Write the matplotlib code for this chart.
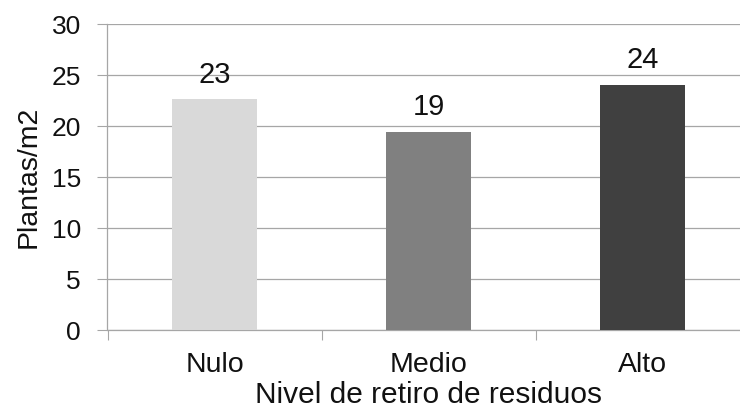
import matplotlib
matplotlib.use("Agg")
import matplotlib.pyplot as plt
from matplotlib.ticker import FixedLocator

categories = ["Nulo", "Medio", "Alto"]
values = [22.6, 19.4, 24.0]
value_labels = ["23", "19", "24"]
colors = ["#d9d9d9", "#808080", "#404040"]
yticks = [0, 5, 10, 15, 20, 25, 30]

plt.rcParams['font.family'] = ['Liberation Sans', 'DejaVu Sans']

fig = plt.figure(figsize=(7.4, 4.11), dpi=100)
ax = fig.add_axes([107.5/740, 1-330/411, 642/740, 306/411])

grid_c = "#a6a6a6"
x = list(range(len(categories)))
bars = ax.bar(x, values, width=0.40, color=colors, zorder=3)
for xi, v, lab in zip(x, values, value_labels):
    ax.annotate(lab, (xi, v), xytext=(0, 12.2), textcoords="offset points",
                ha="center", va="baseline", fontsize=21, color="#111111")

ax.set_xlim(-0.5, 2.5)
ax.set_ylim(0, 30)
ax.set_yticks(yticks)
ax.set_xticks(x)
ax.set_xticklabels(categories)
ax.xaxis.set_minor_locator(FixedLocator([-0.5, 0.5, 1.5, 2.5]))
ax.tick_params(axis="x", which="major", length=0, pad=16, labelsize=20.5, colors="#111111")
ax.tick_params(axis="x", which="minor", length=7.2, width=0.8, color=grid_c)
ax.tick_params(axis="y", which="major", length=7.2, width=0.8, color=grid_c, pad=12,
               labelsize=19, labelcolor="#111111")

ax.grid(axis="y", color=grid_c, linewidth=0.9, zorder=0)
for s in ["top", "right"]:
    ax.spines[s].set_visible(False)
for s in ["left", "bottom"]:
    ax.spines[s].set_color(grid_c)
    ax.spines[s].set_linewidth(0.9)

ax.set_ylabel("Plantas/m2", fontsize=20.5, color="#111111")
ax.yaxis.set_label_coords(-0.103, 0.5)
ax.set_xlabel("Nivel de retiro de residuos", fontsize=21.5, color="#111111", labelpad=2)

fig.savefig("out.png", dpi=100)
